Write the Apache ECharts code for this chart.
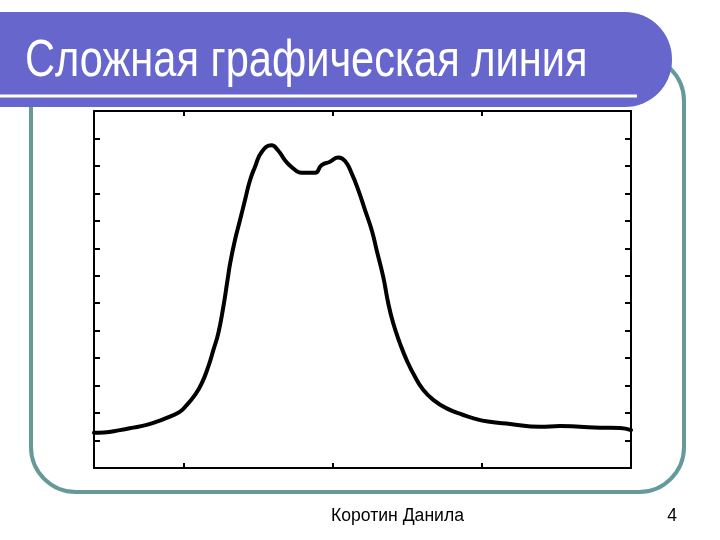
<!DOCTYPE html>
<html>
<head>
<meta charset="utf-8">
<script src="https://cdn.jsdelivr.net/npm/echarts@6/dist/echarts.min.js"></script>
<style>
html,body{margin:0;padding:0;background:#fff;}
#c{width:720px;height:540px;}
</style>
</head>
<body>
<div id="c"></div>
<script>
// ---- data ----
const titleText = 'Сложная графическая линия';
const footerText = 'Коротин Данила';
const pageNumber = '4';

const xValues = [0.400, 0.467, 0.574, 0.663, 0.753, 0.832, 0.909, 0.977, 1.021, 1.077, 1.122, 1.166, 1.200, 1.233, 1.267, 1.295, 1.313, 1.345, 1.379, 1.412, 1.446, 1.479, 1.524, 1.591, 1.633, 1.680, 1.727, 1.792, 1.882, 1.926, 1.982, 2.038, 2.083, 2.128, 2.172, 2.217, 2.262, 2.295, 2.339, 2.373, 2.406, 2.451, 2.496, 2.552, 2.608, 2.675, 2.764, 2.876, 2.950, 3.041, 3.189, 3.390, 3.524, 3.658, 3.792, 3.926, 4.000];
const yValues = [1.28, 1.29, 1.38, 1.47, 1.57, 1.71, 1.87, 2.05, 2.29, 2.66, 3.08, 3.69, 4.29, 4.90, 5.87, 6.84, 7.46, 8.30, 9.03, 9.75, 10.48, 10.96, 11.51, 11.75, 11.57, 11.21, 10.95, 10.75, 10.75, 11.03, 11.15, 11.31, 11.18, 10.72, 10.12, 9.39, 8.66, 7.93, 6.96, 5.99, 5.27, 4.54, 3.93, 3.32, 2.84, 2.48, 2.17, 1.93, 1.80, 1.69, 1.60, 1.50, 1.53, 1.50, 1.47, 1.46, 1.38];

const xTicks = [1, 2, 3];
const xMin = 0.4, xMax = 4;
const yMin = 0, yMax = 13, yStep = 1;

// ---- chart ----
const chart = echarts.init(document.getElementById('c'), null, {renderer: 'canvas'});
const points = xValues.map((x, i) => [x, yValues[i]]);

function xAxisDef(pos) {
  return {
    type: 'value', position: pos, min: xMin, max: xMax,
    axisLine: {show: true, onZero: false, lineStyle: {color: '#000', width: 2}},
    axisTick: {show: true, inside: true, length: 5, customValues: xTicks, lineStyle: {color: '#000', width: 2}},
    axisLabel: {show: false, customValues: xTicks},
    splitLine: {show: false}
  };
}
function yAxisDef(pos) {
  return {
    type: 'value', position: pos, min: yMin, max: yMax, interval: yStep,
    axisLine: {show: true, onZero: false, lineStyle: {color: '#000', width: 2}},
    axisTick: {show: true, inside: true, length: 6, lineStyle: {color: '#000', width: 2}},
    axisLabel: {show: false},
    splitLine: {show: false}
  };
}

chart.setOption({
  animation: false,
  backgroundColor: '#ffffff',
  grid: {left: 94, top: 111, width: 537, height: 357, containLabel: false},
  xAxis: [xAxisDef('bottom'), xAxisDef('top')],
  yAxis: [yAxisDef('left'), yAxisDef('right')],
  series: [{
    type: 'line', xAxisIndex: 0, yAxisIndex: 0,
    data: points, showSymbol: false, smooth: 0.5,
    lineStyle: {color: '#000', width: 4, join: 'round', cap: 'round'},
    clip: true
  }],
  graphic: [
    {type: 'rect', z: 1, shape: {x: 31, y: 56, width: 653, height: 436, r: 45},
     style: {fill: 'none', stroke: '#669999', lineWidth: 4}},
    {type: 'rect', z: 2, shape: {x: 0, y: 12, width: 672, height: 95, r: [0, 47, 47, 0]},
     style: {fill: '#6666cc'}},
    {type: 'rect', z: 3, shape: {x: 0, y: 94.5, width: 637, height: 3},
     style: {fill: '#ffffff'}},
    {type: 'text', z: 4, x: 25, y: 62, scaleX: 0.8, scaleY: 1,
     style: {text: titleText, x: 0, y: 0, fill: '#ffffff', fontSize: 52,
             fontFamily: '"Liberation Sans", Arial, sans-serif', align: 'left', verticalAlign: 'middle'}},
    {type: 'text', z: 4, x: 331, y: 516,
     style: {text: footerText, x: 0, y: 0, fill: '#000000', fontSize: 17.6,
             fontFamily: '"Liberation Sans", Arial, sans-serif', align: 'left', verticalAlign: 'middle'}},
    {type: 'text', z: 4, x: 677, y: 516,
     style: {text: pageNumber, x: 0, y: 0, fill: '#000000', fontSize: 17.6,
             fontFamily: '"Liberation Sans", Arial, sans-serif', align: 'right', verticalAlign: 'middle'}}
  ]
});
</script>
</body>
</html>
